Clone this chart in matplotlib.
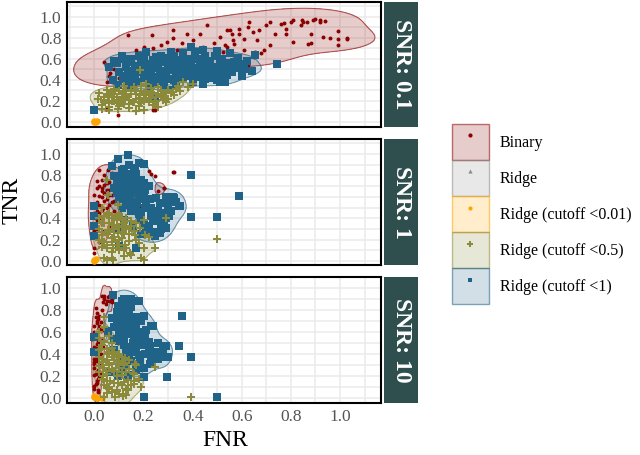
import numpy as np
import matplotlib
matplotlib.use("Agg")
import matplotlib.pyplot as plt
from matplotlib.patches import Patch
from matplotlib.lines import Line2D

plt.rcParams['font.family'] = ['Liberation Serif', 'DejaVu Serif']

###### data ############################
panels = ['SNR: 0.1', 'SNR: 1', 'SNR: 10']
groups = ['Binary', 'Ridge', 'Ridge (cutoff <0.01)', 'Ridge (cutoff <0.5)', 'Ridge (cutoff <1)']

# SNR 0.1
bin1_x = [0.135, 0.233, 0.32, 0.43, 0.46, 0.55, 0.63, 0.70, 0.77, 0.81, 0.85, 0.89, 0.92, 0.99, 0.99,
          1.03, 0.96, 0.88, 0.81, 0.78, 0.735, 0.66, 0.645, 0.59, 0.565, 0.51, 0.485, 0.44, 0.40, 0.375,
          0.355, 0.32, 0.295, 0.27, 0.24, 0.20, 0.17, 0.185, 0.15, 0.12, 0.085, 0.037, 0.065, 0.05, 0.645,
          0.61, 0.525, 0.565, 0.69, 0.54, 0.415, 0.335, 0.25, 0.10, 0.125, 0.24, 0.096, 0.245, 0.047,
          0.54, 0.56, 0.59, 0.625, 0.61, 0.67, 0.715, 0.76, 0.78, 0.80, 0.84, 0.845, 0.865, 0.90, 0.92,
          0.94, 0.88, 0.93, 0.99, 1.03, 0.87, 0.715, 0.655, 0.65, 0.68, 0.625, 0.57, 0.53,
          0.08, 0.12, 0.16, 0.19, 0.23, 0.26, 0.29, 0.33, 0.37, 0.42, 0.15, 0.21, 0.28, 0.10, 0.06]
bin1_y = [0.825, 0.825, 0.87, 0.84, 0.92, 0.87, 0.95, 0.92, 0.94, 0.97, 0.95, 0.97, 0.95, 0.86, 0.73,
          0.80, 0.80, 0.75, 0.76, 0.84, 0.84, 0.78, 0.855, 0.84, 0.78, 0.81, 0.75, 0.71, 0.78, 0.84,
          0.75, 0.80, 0.76, 0.73, 0.70, 0.71, 0.68, 0.65, 0.61, 0.57, 0.59, 0.57, 0.46, 0.38, 0.65,
          0.68, 0.665, 0.64, 0.68, 0.71, 0.64, 0.68, 0.64, 0.49, 0.40, 0.11, 0.06, 0.11, 0.12,
          0.87, 0.84, 0.885, 0.90, 0.79, 0.87, 0.95, 0.93, 0.885, 0.95, 0.92, 0.965, 0.95, 0.98, 0.97,
          0.96, 0.84, 0.81, 0.79, 0.79, 0.74, 0.73, 0.66, 0.62, 0.65, 0.54, 0.74, 0.73,
          0.50, 0.53, 0.56, 0.60, 0.58, 0.61, 0.56, 0.60, 0.62, 0.57, 0.45, 0.52, 0.50, 0.42, 0.44]
rid1_x = [0.0, 0.005]
rid1_y = [0.0, 0.005]
r001_1_x = [0.0, 0.005, 0.0, 0.01]
r001_1_y = [0.01, 0.0, 0.0, 0.01]
r05_1_x = [0.015, 0.04, 0.055, 0.06, 0.095, 0.08, 0.11, 0.115, 0.135, 0.155, 0.165, 0.185, 0.19, 0.20,
           0.21, 0.23, 0.245, 0.26, 0.27, 0.29, 0.30, 0.325, 0.34, 0.36, 0.185, 0.03,
           0.02, 0.04, 0.06, 0.07, 0.09, 0.10, 0.12, 0.13, 0.14, 0.15, 0.17, 0.18, 0.19, 0.20, 0.22,
           0.23, 0.24, 0.25, 0.27, 0.28, 0.31, 0.33, 0.35, 0.38, 0.40, 0.12, 0.08, 0.16, 0.21, 0.03,
           0.05, 0.17, 0.26, 0.11,
           0.04, 0.06, 0.07, 0.08, 0.09, 0.10, 0.11, 0.12, 0.13, 0.14, 0.15, 0.16, 0.17, 0.18, 0.19,
           0.20, 0.21, 0.22, 0.23, 0.24, 0.25, 0.26, 0.28, 0.29, 0.30, 0.32, 0.06, 0.10, 0.14, 0.05]
r05_1_y = [0.22, 0.19, 0.25, 0.11, 0.125, 0.20, 0.19, 0.28, 0.235, 0.19, 0.30, 0.25, 0.345, 0.11,
           0.22, 0.28, 0.19, 0.33, 0.25, 0.19, 0.30, 0.25, 0.345, 0.38, 0.49, 0.125,
           0.27, 0.24, 0.18, 0.28, 0.24, 0.15, 0.22, 0.30, 0.17, 0.26, 0.22, 0.15, 0.29, 0.20, 0.25,
           0.32, 0.16, 0.24, 0.29, 0.21, 0.27, 0.31, 0.29, 0.33, 0.36, 0.34, 0.31, 0.33, 0.36, 0.16,
           0.30, 0.10, 0.14, 0.26,
           0.21, 0.24, 0.20, 0.26, 0.18, 0.29, 0.22, 0.17, 0.25, 0.21, 0.29, 0.19, 0.26, 0.23, 0.18,
           0.27, 0.29, 0.19, 0.23, 0.27, 0.20, 0.26, 0.24, 0.27, 0.22, 0.28, 0.14, 0.21, 0.13, 0.26]
r1_1_x = [0.11, 0.14, 0.18, 0.21, 0.205, 0.165, 0.10, 0.115, 0.135, 0.165, 0.185, 0.22, 0.24, 0.26,
          0.27, 0.30, 0.30, 0.325, 0.34, 0.355, 0.375, 0.395, 0.41, 0.415, 0.43, 0.435, 0.45, 0.46,
          0.475, 0.49, 0.495, 0.50, 0.525, 0.53, 0.53, 0.265, 0.245, 0.285, 0.325, 0.30, 0.245, 0.22,
          0.095, 0.075, 0.14, 0.0, 0.395, 0.44, 0.50, 0.55, 0.585, 0.58, 0.60, 0.655, 0.54, 0.51, 0.49,
          0.47, 0.745, 0.57,
          0.06, 0.08, 0.13, 0.15, 0.17, 0.19, 0.20, 0.23, 0.25, 0.28, 0.29, 0.31, 0.33, 0.35, 0.36,
          0.38, 0.39, 0.40, 0.42, 0.44, 0.45, 0.47, 0.48, 0.52, 0.55, 0.56, 0.62, 0.36, 0.31, 0.25,
          0.19, 0.12, 0.27, 0.33, 0.40, 0.44, 0.52, 0.60, 0.64,
          0.09, 0.12, 0.16, 0.18, 0.21, 0.23, 0.24, 0.26, 0.27, 0.28, 0.30, 0.31, 0.32, 0.34, 0.35,
          0.37, 0.38, 0.39, 0.41, 0.42, 0.43, 0.45, 0.46, 0.48, 0.50, 0.51, 0.53, 0.55, 0.57, 0.59,
          0.61, 0.20, 0.15, 0.26, 0.33, 0.37, 0.42, 0.29, 0.34, 0.22]
r1_1_y = [0.63, 0.57, 0.63, 0.66, 0.55, 0.52, 0.47, 0.41, 0.46, 0.43, 0.47, 0.49, 0.585, 0.54,
          0.63, 0.585, 0.49, 0.63, 0.54, 0.46, 0.505, 0.585, 0.665, 0.47, 0.425, 0.54, 0.63, 0.46,
          0.52, 0.63, 0.46, 0.395, 0.44, 0.54, 0.38, 0.46, 0.36, 0.35, 0.395, 0.30, 0.22, 0.33,
          0.35, 0.395, 0.33, 0.11, 0.71, 0.68, 0.67, 0.65, 0.61, 0.51, 0.51, 0.635, 0.445, 0.38, 0.445,
          0.42, 0.55, 0.51,
          0.52, 0.58, 0.52, 0.60, 0.38, 0.56, 0.42, 0.45, 0.51, 0.57, 0.43, 0.55, 0.47, 0.59, 0.41,
          0.55, 0.44, 0.50, 0.60, 0.55, 0.41, 0.58, 0.49, 0.60, 0.56, 0.47, 0.58, 0.65, 0.66, 0.62,
          0.50, 0.44, 0.39, 0.36, 0.38, 0.36, 0.50, 0.44, 0.48,
          0.56, 0.60, 0.48, 0.53, 0.45, 0.55, 0.40, 0.58, 0.48, 0.44, 0.53, 0.41, 0.50, 0.58, 0.52,
          0.45, 0.60, 0.53, 0.43, 0.51, 0.58, 0.49, 0.54, 0.44, 0.52, 0.58, 0.47, 0.50, 0.57, 0.55,
          0.50, 0.61, 0.39, 0.43, 0.43, 0.50, 0.46, 0.61, 0.49, 0.38]

# SNR 1
bin2_x = [0.02, 0.01, 0.03, 0.05, 0.02, 0.04, 0.06, 0.08, 0.035, 0.01, 0.015, 0.0, 0.01, 0.0, 0.0,
          0.07, 0.09, 0.055, 0.11, 0.135, 0.175, 0.22, 0.23, 0.245, 0.325, 0.285, 0.26, 0.25, 0.205,
          0.185, 0.165, 0.15, 0.32, 0.285,
          0.02, 0.03, 0.04, 0.05, 0.06, 0.07, 0.08, 0.09, 0.10, 0.11, 0.12, 0.13, 0.05, 0.03, 0.02,
          0.01, 0.04, 0.06, 0.08, 0.10, 0.14, 0.16, 0.02, 0.01, 0.03, 0.07,
          0.0, 0.01, 0.02, 0.03, 0.04, 0.05, 0.06, 0.07, 0.08, 0.09, 0.02, 0.03, 0.04, 0.06, 0.01,
          0.0, 0.05, 0.10, 0.12, 0.03]
bin2_y = [0.855, 0.745, 0.68, 0.73, 0.605, 0.56, 0.62, 0.65, 0.495, 0.465, 0.37, 0.28, 0.215, 0.12,
          0.075, 0.79, 0.76, 0.855, 0.635, 0.70, 0.775, 0.84, 0.81, 0.79, 0.83, 0.68, 0.65, 0.605, 0.605,
          0.51, 0.45, 0.31, 0.835, 0.68,
          0.70, 0.60, 0.80, 0.50, 0.66, 0.55, 0.72, 0.60, 0.68, 0.77, 0.58, 0.64, 0.42, 0.35, 0.45,
          0.55, 0.28, 0.33, 0.47, 0.52, 0.72, 0.58, 0.18, 0.30, 0.65, 0.82,
          0.62, 0.68, 0.52, 0.76, 0.64, 0.58, 0.74, 0.62, 0.56, 0.69, 0.40, 0.48, 0.71, 0.52, 0.38,
          0.45, 0.66, 0.74, 0.66, 0.25]
rid2_x = [0.0, 0.005]
rid2_y = [0.0, 0.005]
r001_2_x = [0.0, 0.0, 0.005]
r001_2_y = [0.01, 0.0, 0.02]
r05_2_x = [0.03, 0.05, 0.07, 0.04, 0.08, 0.055, 0.095, 0.03, 0.07, 0.11, 0.13, 0.15, 0.165, 0.185,
           0.205, 0.17, 0.125, 0.095, 0.05, 0.075, 0.13, 0.20, 0.245, 0.04, 0.07, 0.19, 0.29, 0.095,
           0.055, 0.05, 0.50, 0.05, 0.075, 0.20, 0.245, 0.145,
           0.02, 0.04, 0.06, 0.08, 0.09, 0.10, 0.11, 0.12, 0.13, 0.14, 0.16, 0.17, 0.18, 0.20, 0.22,
           0.07, 0.10, 0.03, 0.15, 0.12,
           0.02, 0.03, 0.04, 0.05, 0.06, 0.07, 0.08, 0.09, 0.10, 0.11, 0.12, 0.13, 0.14, 0.02, 0.05,
           0.07, 0.10, 0.12, 0.15, 0.04, 0.06, 0.08, 0.03, 0.09, 0.11]
r05_2_y = [0.495, 0.43, 0.40, 0.355, 0.34, 0.29, 0.26, 0.245, 0.215, 0.215, 0.31, 0.37, 0.245, 0.31,
           0.245, 0.20, 0.15, 0.15, 0.12, 0.12, 0.12, 0.12, 0.12, 0.03, 0.03, 0.03, 0.40, 0.525,
           0.62, 0.76, 0.21, 0.01, 0.01, 0.01, 0.12, 0.075,
           0.40, 0.18, 0.45, 0.30, 0.38, 0.44, 0.33, 0.25, 0.40, 0.19, 0.28, 0.36, 0.17, 0.38, 0.22,
           0.08, 0.10, 0.13, 0.06, 0.05,
           0.30, 0.36, 0.42, 0.25, 0.36, 0.30, 0.22, 0.42, 0.32, 0.27, 0.36, 0.30, 0.25, 0.20, 0.15,
           0.18, 0.20, 0.12, 0.33, 0.36, 0.28, 0.40, 0.27, 0.15, 0.40]
r1_2_x = [0.136, 0.20, 0.095, 0.07, 0.11, 0.165, 0.08, 0.13, 0.155, 0.095, 0.12, 0.165, 0.145, 0.11,
          0.20, 0.205, 0.175, 0.205, 0.225, 0.25, 0.265, 0.29, 0.325, 0.345, 0.30, 0.28, 0.305, 0.265,
          0.24, 0.285, 0.29, 0.265, 0.245, 0.22, 0.185, 0.155, 0.12, 0.095, 0.0, 0.0, 0.0, 0.0, 0.10,
          0.17, 0.395, 0.395, 0.59, 0.50, 0.35, 0.32, 0.29, 0.25, 0.29,
          0.12, 0.14, 0.16, 0.18, 0.10, 0.13, 0.15, 0.17, 0.19, 0.21, 0.23, 0.24, 0.22, 0.11, 0.09,
          0.18, 0.26, 0.27, 0.31, 0.33, 0.21, 0.19,
          0.08, 0.10, 0.11, 0.12, 0.13, 0.14, 0.15, 0.16, 0.17, 0.18, 0.19, 0.20, 0.12, 0.14, 0.16,
          0.10, 0.13, 0.15, 0.17, 0.19, 0.21, 0.23, 0.25, 0.27, 0.22, 0.11, 0.09, 0.18, 0.14, 0.20]
r1_2_y = [0.99, 0.905, 0.95, 0.885, 0.855, 0.87, 0.79, 0.81, 0.76, 0.71, 0.68, 0.665, 0.605, 0.575,
          0.73, 0.665, 0.54, 0.495, 0.575, 0.59, 0.54, 0.59, 0.59, 0.51, 0.51, 0.45, 0.42, 0.40,
          0.40, 0.355, 0.31, 0.26, 0.23, 0.325, 0.385, 0.325, 0.385, 0.31, 0.51, 0.42, 0.325, 0.23, 0.14,
          0.12, 0.80, 0.41, 0.61, 0.41, 0.51, 0.60, 0.60, 0.27, 0.40,
          0.72, 0.66, 0.73, 0.62, 0.62, 0.53, 0.47, 0.81, 0.69, 0.58, 0.50, 0.45, 0.70, 0.80, 0.76,
          0.44, 0.47, 0.35, 0.47, 0.55, 0.31, 0.25,
          0.68, 0.72, 0.66, 0.78, 0.70, 0.62, 0.78, 0.64, 0.70, 0.58, 0.76, 0.63, 0.86, 0.90, 0.84,
          0.58, 0.60, 0.55, 0.50, 0.46, 0.52, 0.42, 0.37, 0.30, 0.27, 0.50, 0.64, 0.92, 0.52, 0.36]

# SNR 10
bin3_x = [0.04, 0.055, 0.07, 0.065, 0.035, 0.045, 0.07, 0.04, 0.03,
          0.01, 0.015, 0.0, 0.02, 0.01, 0.015, 0.0, 0.02, 0.01, 0.0, 0.015, 0.0, 0.01, 0.0, 0.015,
          0.025, 0.035, 0.025, -0.01, 0.095, 0.10, 0.07,
          0.005, 0.02, 0.01, 0.025, 0.0, 0.015, 0.03, 0.005, 0.02, 0.01, 0.0, 0.025, 0.015, 0.005,
          0.02, 0.01, 0.03, 0.0, 0.015, 0.02,
          0.005, 0.01, 0.02, 0.0, 0.015, 0.025, 0.005, 0.02, 0.01, 0.0, 0.025, 0.015, 0.005, 0.02,
          0.01, 0.0, 0.03, 0.035, 0.05, 0.06]
bin3_y = [0.93, 0.915, 0.90, 0.885, 0.87, 0.86, 0.87, 0.90, 0.93,
          0.77, 0.72, 0.66, 0.63, 0.57, 0.51, 0.47, 0.43, 0.37, 0.31, 0.25, 0.21, 0.16, 0.11, 0.08,
          0.69, 0.54, 0.40, 0.54, 0.505, 0.59, 0.45,
          0.82, 0.75, 0.68, 0.61, 0.58, 0.53, 0.48, 0.44, 0.40, 0.34, 0.28, 0.23, 0.18, 0.13,
          0.64, 0.49, 0.80, 0.36, 0.06, 0.30,
          0.74, 0.70, 0.66, 0.60, 0.56, 0.52, 0.46, 0.42, 0.38, 0.33, 0.30, 0.26, 0.22, 0.19,
          0.14, 0.09, 0.62, 0.47, 0.88, 0.93]
rid3_x = [0.0, 0.01]
rid3_y = [0.0, 0.005]
r001_3_x = [0.0, 0.01, 0.03, 0.0]
r001_3_y = [0.01, 0.0, 0.0, 0.02]
r05_3_x = [0.04, 0.02, 0.04, 0.06, 0.025, 0.05, 0.07, 0.09, 0.035, 0.06, 0.10, 0.12, 0.02, 0.045,
           0.08, 0.11, 0.035, 0.065, 0.095, 0.135, 0.155, 0.16, 0.06, 0.09, 0.115, 0.085, 0.04, 0.135,
           0.125, 0.165, 0.245, 0.395, 0.117,
           0.02, 0.03, 0.05, 0.06, 0.07, 0.08, 0.09, 0.10, 0.11, 0.12, 0.13, 0.14, 0.15, 0.16, 0.17,
           0.18, 0.19, 0.04, 0.05, 0.07, 0.10, 0.13, 0.02, 0.04,
           0.02, 0.03, 0.04, 0.05, 0.06, 0.07, 0.08, 0.09, 0.10, 0.11, 0.12, 0.03, 0.05, 0.06, 0.08,
           0.09, 0.11, 0.04, 0.07, 0.02, 0.14, 0.16, 0.13, 0.05, 0.08]
r05_3_y = [0.74, 0.55, 0.51, 0.565, 0.45, 0.40, 0.46, 0.39, 0.355, 0.32, 0.335, 0.30, 0.29, 0.245,
           0.245, 0.21, 0.20, 0.16, 0.14, 0.17, 0.23, 0.13, 0.09, 0.08, 0.02, 0.01, 0.01, 0.08,
           0.37, 0.315, 0.285, 0.01, 0.04,
           0.38, 0.48, 0.35, 0.42, 0.27, 0.35, 0.20, 0.28, 0.38, 0.15, 0.24, 0.35, 0.12, 0.22, 0.30,
           0.18, 0.10, 0.12, 0.22, 0.06, 0.04, 0.03, 0.60, 0.65,
           0.44, 0.33, 0.28, 0.45, 0.30, 0.38, 0.25, 0.31, 0.40, 0.24, 0.32, 0.18, 0.16, 0.10, 0.14,
           0.07, 0.12, 0.52, 0.50, 0.24, 0.27, 0.16, 0.09, 0.05, 0.42]
r1_3_x = [0.077, 0.095, 0.12, 0.135, 0.07, 0.095, 0.115, 0.15, 0.175, 0.20, 0.24, 0.08, 0.115, 0.145,
          0.165, 0.055, 0.08, 0.12, 0.155, 0.185, 0.205, 0.225, 0.29, 0.345, 0.25, 0.30, 0.205, 0.165,
          0.13, 0.135, 0.185, 0.225, 0.11, 0.06, 0.095, 0.135, 0.20, 0.395, 0.355, 0.0, 0.0,
          0.29, 0.295, 0.20, 0.50, 0.23,
          0.09, 0.11, 0.13, 0.14, 0.16, 0.17, 0.10, 0.12, 0.14, 0.16, 0.18, 0.19, 0.21, 0.23, 0.26,
          0.27, 0.20, 0.17, 0.13, 0.08, 0.10, 0.15, 0.18, 0.12, 0.11,
          0.09, 0.10, 0.11, 0.12, 0.13, 0.14, 0.15, 0.16, 0.17, 0.18, 0.10, 0.12, 0.14, 0.16, 0.18,
          0.20, 0.22, 0.24, 0.11, 0.13, 0.15, 0.09, 0.19, 0.21, 0.17, 0.26, 0.28, 0.12, 0.15, 0.22]
r1_3_y = [0.935, 0.84, 0.84, 0.81, 0.725, 0.74, 0.71, 0.725, 0.74, 0.75, 0.66, 0.65, 0.62, 0.65,
          0.61, 0.61, 0.535, 0.55, 0.505, 0.535, 0.565, 0.475, 0.475, 0.475, 0.42, 0.375, 0.405, 0.42,
          0.43, 0.36, 0.345, 0.315, 0.285, 0.24, 0.20, 0.21, 0.01, 0.38, 0.75, 0.56, 0.42,
          0.38, 0.19, 0.19, 0.01, 0.66,
          0.78, 0.69, 0.75, 0.58, 0.68, 0.55, 0.60, 0.48, 0.40, 0.45, 0.39, 0.60, 0.48, 0.36, 0.50,
          0.40, 0.28, 0.26, 0.30, 0.44, 0.52, 0.83, 0.88, 0.90, 0.88,
          0.72, 0.68, 0.77, 0.64, 0.69, 0.78, 0.62, 0.73, 0.66, 0.58, 0.56, 0.53, 0.47, 0.52, 0.48,
          0.55, 0.44, 0.40, 0.83, 0.86, 0.90, 0.65, 0.70, 0.62, 0.43, 0.36, 0.45, 0.38, 0.34, 0.51]

data = [
    [(bin1_x, bin1_y), (rid1_x, rid1_y), (r001_1_x, r001_1_y), (r05_1_x, r05_1_y), (r1_1_x, r1_1_y)],
    [(bin2_x, bin2_y), (rid2_x, rid2_y), (r001_2_x, r001_2_y), (r05_2_x, r05_2_y), (r1_2_x, r1_2_y)],
    [(bin3_x, bin3_y), (rid3_x, rid3_y), (r001_3_x, r001_3_y), (r05_3_x, r05_3_y), (r1_3_x, r1_3_y)],
]
ylims = [(-0.05, 1.14), (-0.037, 1.14), (-0.041, 1.064)]

colors = ['#8B0000', '#8c8c8c', '#FFA500', '#8a8a3a', '#1f6388']
markers = ['o', '^', 'o', 'P', 's']
sizes = [8, 4, 22, 32, 26]
draw_order = [0, 1, 2, 4, 3]


def nrd_sd(v):
    # same as MASS::bandwidth.nrd / 4
    v = np.asarray(v)
    q1, q3 = np.percentile(v, [25, 75])
    s = min(np.std(v, ddof=1), (q3 - q1) / 1.34)
    return 1.06 * s * len(v) ** (-0.2)


def density_polygon(ax, x, y, col, frac=0.2):
    x = np.asarray(x)
    y = np.asarray(y)
    hx = nrd_sd(x)
    hy = nrd_sd(y)
    if hx <= 0 or hy <= 0:
        return
    gx = np.linspace(-0.4, 1.6, 300)
    gy = np.linspace(-0.4, 1.6, 300)
    X, Y = np.meshgrid(gx, gy)
    Z = np.zeros_like(X)
    for xi, yi in zip(x, y):
        Z += np.exp(-0.5 * ((X - xi) / hx) ** 2 - 0.5 * ((Y - yi) / hy) ** 2)
    lev = frac * Z.max()
    ax.contourf(X, Y, Z, levels=[lev, Z.max() * 2], colors=[col], alpha=0.2, zorder=1)
    ax.contour(X, Y, Z, levels=[lev], colors=[col], alpha=0.6, linewidths=0.8, zorder=1)


fig = plt.figure(figsize=(6.4, 4.55), dpi=100)
W, H = 640.0, 455.0
tops = [2, 139, 277]
bots = [127, 265, 403]
axes = []
for i in range(3):
    ax = fig.add_axes([67 / W, 1 - bots[i] / H, (381 - 67) / W, (bots[i] - tops[i]) / H])
    axes.append(ax)
    for g in range(5):
        gx, gy = data[i][g]
        if g in (1, 2):
            continue
        density_polygon(ax, gx, gy, colors[g])
    for g in draw_order:
        gx, gy = data[i][g]
        ax.scatter(gx, gy, s=sizes[g], c=colors[g], marker=markers[g], linewidths=0, zorder=3)
    ax.set_xlim(-0.112, 1.167)
    ax.set_ylim(*ylims[i])
    ax.set_xticks(np.arange(0, 1.01, 0.2))
    ax.set_xticks(np.arange(-0.1, 1.15, 0.1), minor=True)
    ax.set_yticks(np.arange(0, 1.01, 0.2))
    ax.set_yticks(np.arange(0.1, 1.15, 0.2), minor=True)
    ax.grid(which='both', color='#ebebeb', linewidth=1.1)
    ax.set_axisbelow(True)
    ax.tick_params(which='both', length=0, labelsize=12.5, labelcolor='#555555', pad=4)
    for sp in ax.spines.values():
        sp.set_linewidth(1.5)
        sp.set_color('black')
    if i < 2:
        ax.set_xticklabels([])
    # strip
    sax = fig.add_axes([384 / W, 1 - bots[i] / H, 34 / W, (bots[i] - tops[i]) / H])
    sax.set_facecolor('#2f4f4f')
    sax.set_xticks([])
    sax.set_yticks([])
    for sp in sax.spines.values():
        sp.set_visible(False)
    sax.text(0.5, 0.5, panels[i], rotation=270, color='white', fontsize=17, fontweight='bold',
             ha='center', va='center', transform=sax.transAxes)

fig.text(12 / W, 1 - 200 / H, 'TNR', rotation=90, fontsize=17, ha='center', va='center')
fig.text(225 / W, 1 - 440 / H, 'FNR', fontsize=17, ha='center', va='center')

###### legend ######
handles = []
for g in range(5):
    p = Patch(facecolor=matplotlib.colors.to_rgba(colors[g], 0.2),
              edgecolor=matplotlib.colors.to_rgba(colors[g], 0.55), linewidth=1.0)
    m = Line2D([], [], linestyle='none', marker=markers[g], color=colors[g],
               markersize=3 if g != 3 else 4, markeredgewidth=0)
    handles.append((p, m))
fig.legend(handles, groups, loc='upper left', bbox_to_anchor=(452 / W, 1 - 124 / H),
           frameon=False, fontsize=11.5, handlelength=2.3, handleheight=3.1, labelspacing=0.0,
           handletextpad=0.7, borderpad=0, borderaxespad=0)

fig.savefig('out.png', dpi=100)
